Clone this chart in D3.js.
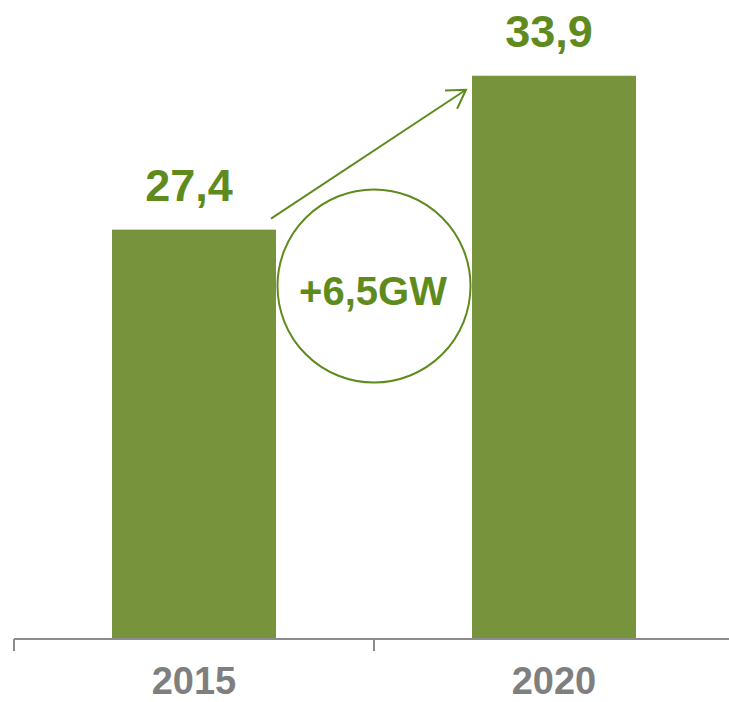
<!DOCTYPE html>
<html><head><meta charset="utf-8">
<script src="https://cdn.jsdelivr.net/npm/d3@7"></script>
<style>html,body{margin:0;padding:0;background:#fff;}svg{display:block;}</style>
</head><body>
<script>
const categories = ["2015", "2020"];
const values = [27.4, 33.9];
const valueLabels = ["27,4", "33,9"];
const deltaLabel = "+6,5GW";

const W = 729, H = 702;
const barColor = "#77933c", green = "#5f8b1e", gray = "#7f7f7f", axisGray = "#8c8c8c";
const svg = d3.select("body").append("svg").attr("width", W).attr("height", H);

const baseY = 638;
const x = d3.scaleBand().domain(categories).range([14, 734]).paddingInner(0.5444).paddingOuter(0.2722);
const y = d3.scaleLinear().domain([10.15, 37.1]).range([baseY, 0]);
const bw = x.bandwidth();
const step = x.step();

// bars
svg.selectAll("rect.bar").data(categories).join("rect")
  .attr("class", "bar")
  .attr("x", d => x(d)).attr("width", bw)
  .attr("y", (d, i) => y(values[i]))
  .attr("height", (d, i) => baseY - y(values[i]))
  .attr("fill", barColor);

// axis
const bounds = [0, 1, 2].map(i => x.range()[0] + i * step);
svg.append("line").attr("x1", bounds[0]).attr("x2", W).attr("y1", baseY + 1).attr("y2", baseY + 1)
  .attr("stroke", axisGray).attr("stroke-width", 2);
svg.selectAll("line.tick").data(bounds).join("line").attr("class", "tick")
  .attr("x1", d => d).attr("x2", d => d).attr("y1", baseY + 1).attr("y2", baseY + 13)
  .attr("stroke", axisGray).attr("stroke-width", 2);

svg.selectAll("text.cat").data(categories).join("text").attr("class", "cat")
  .attr("x", d => x(d) + bw / 2).attr("y", 694)
  .attr("text-anchor", "middle")
  .attr("font-family", "Liberation Sans, Arial, sans-serif").attr("font-weight", "bold")
  .attr("font-size", 38).attr("fill", gray).text(d => d);

// value labels
svg.selectAll("text.val").data(categories).join("text").attr("class", "val")
  .attr("x", d => x(d) + bw / 2 - 5).attr("y", (d, i) => y(values[i]) - 29)
  .attr("text-anchor", "middle")
  .attr("font-family", "Liberation Sans, Arial, sans-serif").attr("font-weight", "bold")
  .attr("font-size", 45).attr("fill", green).text((d, i) => valueLabels[i]);

// arrow
const x0 = x(categories[0]) + bw - 5, y0 = y(values[0]) - 11;
const x1 = x(categories[1]) - 6, y1 = y(values[1]) + 14;
svg.append("line").attr("x1", x0).attr("y1", y0).attr("x2", x1).attr("y2", y1)
  .attr("stroke", green).attr("stroke-width", 2);
const ang = Math.atan2(y1 - y0, x1 - x0);
const hl = 21, ha = 0.55;
const head = [[x1 - hl * Math.cos(ang - ha), y1 - hl * Math.sin(ang - ha)], [x1, y1], [x1 - hl * Math.cos(ang + ha), y1 - hl * Math.sin(ang + ha)]];
svg.append("path").attr("d", d3.line()(head)).attr("fill", "none")
  .attr("stroke", green).attr("stroke-width", 2).attr("stroke-linejoin", "miter");

// circle
const cx = bounds[1], cy = 286;
svg.append("circle").attr("cx", cx).attr("cy", cy).attr("r", 96.5)
  .attr("fill", "none").attr("stroke", green).attr("stroke-width", 2);
svg.append("text").attr("x", cx - 1).attr("y", cy + 19).attr("text-anchor", "middle")
  .attr("font-family", "Liberation Sans, Arial, sans-serif").attr("font-weight", "bold")
  .attr("font-size", 40).attr("fill", green).text(deltaLabel);
</script>
</body></html>
